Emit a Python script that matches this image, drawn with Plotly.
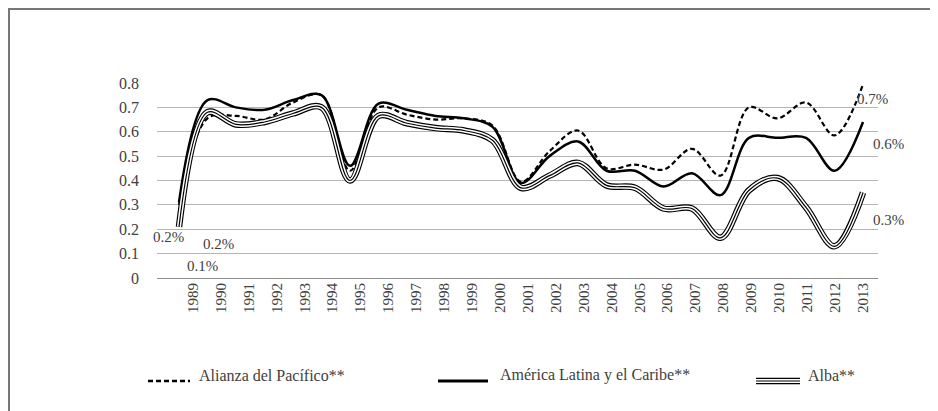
import plotly.graph_objects as go

# ---------------- data ----------------
years = [1989, 1990, 1991, 1992, 1993, 1994, 1995, 1996, 1997, 1998, 1999, 2000,
         2001, 2002, 2003, 2004, 2005, 2006, 2007, 2008, 2009, 2010, 2011, 2012, 2013]
tick_labels = [str(y) for y in years]

alianza = [0.30, 0.655, 0.665, 0.65, 0.72, 0.75, 0.44, 0.70, 0.67, 0.65, 0.655, 0.625,
           0.395, 0.52, 0.605, 0.45, 0.465, 0.445, 0.53, 0.42, 0.70, 0.655, 0.72, 0.585, 0.795]
alc = [0.31, 0.73, 0.70, 0.69, 0.73, 0.75, 0.46, 0.715, 0.69, 0.665, 0.655, 0.62,
       0.39, 0.50, 0.56, 0.44, 0.44, 0.375, 0.43, 0.34, 0.575, 0.575, 0.575, 0.44, 0.64]
alba = [0.21, 0.68, 0.63, 0.64, 0.675, 0.70, 0.40, 0.665, 0.635, 0.615, 0.605, 0.565,
        0.37, 0.42, 0.472, 0.38, 0.37, 0.285, 0.285, 0.165, 0.36, 0.41, 0.29, 0.13, 0.35]

y_ticks = [0, 0.1, 0.2, 0.3, 0.4, 0.5, 0.6, 0.7, 0.8]
y_tick_text = ["0", "0.1", "0.2", "0.3", "0.4", "0.5", "0.6", "0.7", "0.8"]

series_names = ["Alianza del Pacífico**", "América Latina y el Caribe**", "Alba**"]
left_labels = ["0.2%", "0.2%", "0.1%"]
right_labels = ["0.7%", "0.6%", "0.3%"]

# ---------------- layout geometry ----------------
W, H = 938, 411
OFF = 8  # page body margin: figure starts 8px in from the window corner
L, R, T, B = 149, 68, 74, 141
PW = W - L - R
PH = H - T - B


def px(xs):
    """screen x (window pixels) -> paper x"""
    return (xs - OFF - L) / PW


def py(ys):
    """screen y (window pixels) -> paper y"""
    return (H - B - (ys - OFF)) / PH


FONT = "Liberation Serif, Tinos, 'Times New Roman', 'DejaVu Serif', serif"
TXT = "#404040"
DASH = "5px,3px"

fig = go.Figure()

fig.add_trace(go.Scatter(x=years, y=alianza, mode="lines", name=series_names[0],
                         line=dict(color="black", width=2.2, dash=DASH, shape="spline", smoothing=1),
                         showlegend=False, hoverinfo="skip"))
fig.add_trace(go.Scatter(x=years, y=alc, mode="lines", name=series_names[1],
                         line=dict(color="black", width=2.5, shape="spline", smoothing=1),
                         showlegend=False, hoverinfo="skip"))
# triple line for Alba
for w, c in [(6.5, "black"), (4.2, "white"), (1.2, "black")]:
    fig.add_trace(go.Scatter(x=years, y=alba, mode="lines", name=series_names[2],
                             line=dict(color=c, width=w, shape="spline", smoothing=1),
                             showlegend=False, hoverinfo="skip"))
# invisible carrier so the category-label axis is drawn
fig.add_trace(go.Scatter(x=years, y=alc, xaxis="x2", mode="lines", line=dict(width=0),
                         opacity=0, showlegend=False, hoverinfo="skip"))

shapes = []
annotations = []

# outer frame (top and left edges of the figure)
shapes.append(dict(type="line", xref="paper", yref="paper", x0=px(8), x1=px(950), y0=py(9), y1=py(9),
                   line=dict(color="#777777", width=2)))
shapes.append(dict(type="line", xref="paper", yref="paper", x0=px(9), x1=px(9), y0=py(8), y1=py(420),
                   line=dict(color="#777777", width=2)))

# data labels
for txt, (x, y) in zip(left_labels, [(168, 237), (218, 244), (202, 266)]):
    annotations.append(dict(text=txt, xref="paper", yref="paper", x=px(x), y=py(y),
                            xanchor="center", yanchor="middle", showarrow=False,
                            font=dict(family=FONT, size=15, color=TXT)))
for txt, (x, y) in zip(right_labels, [(872, 99), (888, 144), (888, 220)]):
    annotations.append(dict(text=txt, xref="paper", yref="paper", x=px(x), y=py(y),
                            xanchor="center", yanchor="middle", showarrow=False,
                            font=dict(family=FONT, size=15, color=TXT)))

# manual legend
LEG_Y_LINE = 381
LEG_Y_TEXT = 375
leg = [(148, 190, 197), (438, 488, 498), (756, 800, 806)]
shapes.append(dict(type="line", xref="paper", yref="paper", x0=px(leg[0][0]), x1=px(leg[0][1]),
                   y0=py(LEG_Y_LINE), y1=py(LEG_Y_LINE), line=dict(color="black", width=2.5, dash=DASH)))
shapes.append(dict(type="line", xref="paper", yref="paper", x0=px(leg[1][0]), x1=px(leg[1][1]),
                   y0=py(LEG_Y_LINE), y1=py(LEG_Y_LINE), line=dict(color="black", width=2.8)))
for w, c in [(6.5, "black"), (4.2, "white"), (1.2, "black")]:
    shapes.append(dict(type="line", xref="paper", yref="paper", x0=px(leg[2][0]), x1=px(leg[2][1]),
                       y0=py(LEG_Y_LINE), y1=py(LEG_Y_LINE), line=dict(color=c, width=w)))
for name, (_, _, tx) in zip(series_names, leg):
    annotations.append(dict(text=name, xref="paper", yref="paper", x=px(tx), y=py(LEG_Y_TEXT),
                            xanchor="left", yanchor="middle", showarrow=False,
                            font=dict(family=FONT, size=16, color=TXT)))

fig.update_layout(
    width=W, height=H,
    margin=dict(l=L, r=R, t=T, b=B, pad=0),
    paper_bgcolor="white", plot_bgcolor="white",
    showlegend=False,
    font=dict(family=FONT, color=TXT, size=15),
    xaxis=dict(range=[1988.228, 2013.526], showgrid=False, zeroline=False,
               showline=True, linecolor="#8c8c8c", linewidth=1,
               showticklabels=False, ticks=""),
    xaxis2=dict(overlaying="x", anchor="y", side="bottom",
                range=[1987.7105, 2013.537], tickmode="array", tickvals=years, ticktext=tick_labels,
                tickangle=-90, showgrid=False, zeroline=False, showline=False, ticks="",
                tickfont=dict(family=FONT, size=15, color=TXT), ticklabelstandoff=1),
    yaxis=dict(range=[0, 0.8041], tickmode="array", tickvals=y_ticks, ticktext=y_tick_text,
               showgrid=True, gridcolor="#b5b5b5", gridwidth=1, zeroline=False, showline=False,
               ticks="", tickfont=dict(family=FONT, size=16, color=TXT), ticklabelstandoff=17),
    shapes=shapes,
    annotations=annotations,
)

fig.write_html("out.html")
